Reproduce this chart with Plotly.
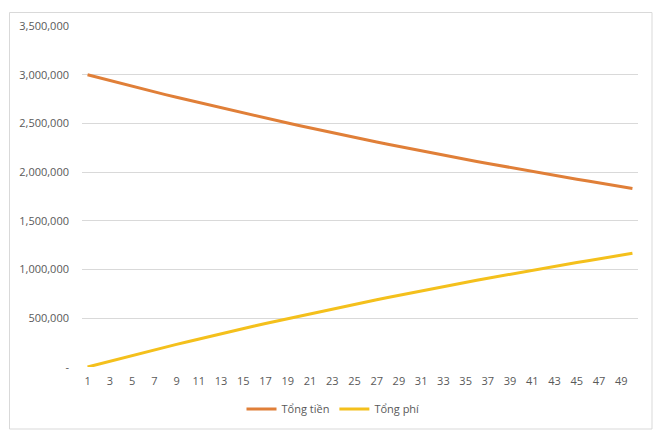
import plotly.graph_objects as go

periods = list(range(1, 51))

tong_tien = [3000000, 2970000, 2940000, 2911000, 2882000, 2853000, 2824000, 2796000, 2768000, 2741000,
             2713000, 2686000, 2659000, 2633000, 2606000, 2580000, 2554000, 2529000, 2504000, 2479000,
             2454000, 2429000, 2405000, 2381000, 2357000, 2333000, 2310000, 2287000, 2264000, 2242000,
             2219000, 2197000, 2175000, 2153000, 2132000, 2110000, 2089000, 2068000, 2048000, 2027000,
             2007000, 1987000, 1967000, 1947000, 1928000, 1909000, 1889000, 1871000, 1852000, 1833000]

tong_phi = [0, 30000, 60000, 89000, 118000, 147000, 176000, 204000, 232000, 259000,
            287000, 314000, 341000, 367000, 394000, 420000, 446000, 471000, 496000, 521000,
            546000, 571000, 595000, 619000, 643000, 667000, 690000, 713000, 736000, 758000,
            781000, 803000, 825000, 847000, 868000, 890000, 911000, 932000, 952000, 973000,
            993000, 1013000, 1033000, 1053000, 1072000, 1091000, 1111000, 1129000, 1148000, 1167000]

y_tickvals = [0, 500000, 1000000, 1500000, 2000000, 2500000, 3000000, 3500000]
y_ticktext = ["-", "500,000", "1,000,000", "1,500,000", "2,000,000", "2,500,000", "3,000,000", "3,500,000"]
x_tickvals = list(range(1, 51, 2))

font_color = "#595959"
grid_color = "#d9d9d9"

fig = go.Figure()
fig.add_trace(go.Scatter(x=periods, y=tong_tien, mode="lines", name="Tổng tiền",
                         line=dict(color="#E07F38", width=3)))
fig.add_trace(go.Scatter(x=periods, y=tong_phi, mode="lines", name="Tổng phí",
                         line=dict(color="#F4C01C", width=3)))

W, H = 660, 441
L, R, T, B = 82, 22, 26, 74
pw, ph = W - L - R, H - T - B

def px_x(p):
    return (p - L) / pw

def px_y(p):
    return (H - B - p) / ph

fig.update_layout(
    width=W, height=H,
    margin=dict(l=L, r=R, t=T, b=B),
    paper_bgcolor="white", plot_bgcolor="white",
    font=dict(family="Open Sans, Liberation Sans, sans-serif", size=11, color=font_color),
    showlegend=True,
    legend=dict(orientation="h", x=px_x(333), y=px_y(409), xanchor="center", yanchor="middle",
                font=dict(size=11, color=font_color), itemwidth=30, tracegroupgap=0),
    xaxis=dict(type="linear", range=[0.5, 50.5], tickvals=x_tickvals, showgrid=False,
               zeroline=False, showline=False, ticks="", ticklabelstandoff=6,
               tickfont=dict(size=11, color=font_color)),
    yaxis=dict(range=[0, 3500000], tickvals=y_tickvals, ticktext=y_ticktext,
               showgrid=True, gridcolor=grid_color, gridwidth=1, zeroline=False,
               showline=False, ticks="", ticklabelstandoff=12,
               tickfont=dict(size=11, color=font_color)),
    shapes=[dict(type="rect", xref="paper", yref="paper",
                 x0=px_x(9.5), x1=px_x(652), y0=px_y(429), y1=px_y(12.5),
                 line=dict(color=grid_color, width=1), fillcolor="rgba(0,0,0,0)", layer="below")],
)

fig.write_html("out.html")
